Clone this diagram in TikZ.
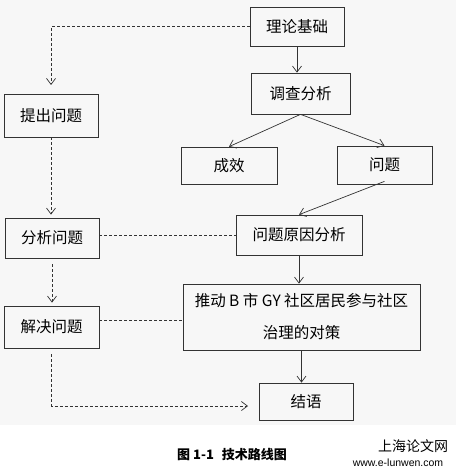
\documentclass[tikz,border=0pt]{standalone}
\usepackage{fontspec}
\setmainfont{Noto Sans CJK SC}
\newfontfamily\wmfont{Liberation Sans}
\usetikzlibrary{arrows.meta}
\begin{document}
\begin{tikzpicture}[x=1pt,y=-1pt,
  box/.style={draw=black!80,line width=0.7pt,inner sep=0pt,align=center,font=\fontsize{15.5}{32}\selectfont},
  solidarrow/.style={draw=black!80,line width=0.7pt,-{Straight Barb[length=6pt,width=9pt]}},
  dashline/.style={draw=black!80,line width=0.7pt,dash pattern=on 3pt off 2pt},
  dasharrow/.style={dashline,-{Straight Barb[length=6pt,width=9pt]}}]
\useasboundingbox (0,0) rectangle (459,476);
\fill[black!3] (0,0) rectangle (456,425);
% nodes
\node[box,minimum width=94pt,minimum height=39pt] (llj) at (297,26.5) {理论基础};
\node[box,minimum width=99pt,minimum height=41pt] (dcfx) at (300.5,93.5) {调查分析};
\node[box,minimum width=94pt,minimum height=43pt] (tcwt) at (51,115.5) {提出问题};
\node[box,minimum width=96pt,minimum height=37pt] (cx) at (229,165.5) {成效};
\node[box,minimum width=95pt,minimum height=38pt] (wt) at (384.5,165) {问题};
\node[box,minimum width=94pt,minimum height=40pt] (fxwt) at (52,238) {分析问题};
\node[box,minimum width=126pt,minimum height=40pt] (yyfx) at (299,235) {问题原因分析};
\node[box,minimum width=237pt,minimum height=66pt] (td) at (301.5,317) {推动 B 市 GY 社区居民参与社区\\治理的对策};
\node[box,minimum width=95pt,minimum height=42pt] (jjwt) at (51.5,327) {解决问题};
\node[box,minimum width=94pt,minimum height=37pt] (jy) at (306,401.5) {结语};
\coordinate (a1) at (51,85);
\coordinate (a2) at (248,406);
% connectors
\draw[dasharrow] (llj.west) -| (a1);
\draw[solidarrow] (llj.south) -- (llj.south |- dcfx.north);
\draw[solidarrow] (dcfx.south) -- (cx.north);
\draw[solidarrow] (dcfx.south) -- (wt.north);
\draw[solidarrow] ([yshift=3pt]wt.south) -- (yyfx.north);
\draw[dasharrow,shorten >=3pt] (tcwt.south) -- (fxwt.north -| tcwt.south);
\draw[dashline] (fxwt.east |- yyfx.west) -- (yyfx.west);
\draw[dasharrow,shorten <=6pt,shorten >=3pt] (fxwt.south) -- (fxwt.south |- jjwt.north);
\draw[solidarrow] (yyfx.south) -- (yyfx.south |- td.north);
\draw[dashline] (jjwt.east |- 0,320) -- (td.west |- 0,320);
\draw[solidarrow] (td.south) -- (td.south |- jy.north);
\draw[dasharrow,shorten <=6pt] (jjwt.south) |- (a2);
% caption
\node[font=\fontsize{13}{14}\selectfont\bfseries] (cap) at (232,455) {图 1-1\hspace{0.6em}技术路线图};
% watermark
\node[font=\fontsize{14}{15}\selectfont,inner sep=0pt] (wm1) at (413,446) {上海论文网};
\node[font=\wmfont\fontsize{10.5}{11}\selectfont,inner sep=0pt] (wm2) at (398,463) {www.e-lunwen.com};
\end{tikzpicture}
\end{document}
